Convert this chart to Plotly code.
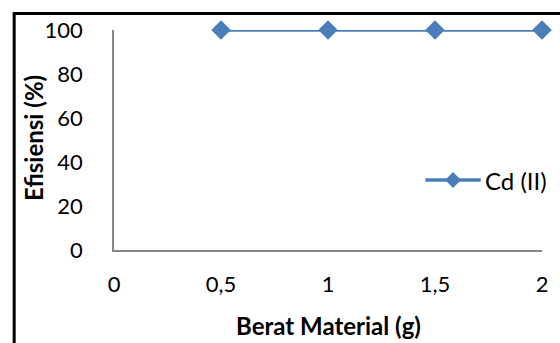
import plotly.graph_objects as go

berat = [0.5, 1, 1.5, 2]
efisiensi = [100, 100, 100, 100]
series_name = "Cd (II)"
x_tickvals = [0, 0.5, 1, 1.5, 2]
x_ticktext = ["0", "0,5", "1", "1,5", "2"]
y_tickvals = [0, 20, 40, 60, 80, 100]
x_title = "Berat Material (g)"
y_title = "Efisiensi (%)"

W, H = 560, 343
L, R, T, B = 114, 13, 30, 93
pw, ph = W - L - R, H - T - B
color = "#4A7EBB"


def px(x):
    return (x - L) / pw


def py(y):
    return (T + ph - y) / ph


fig = go.Figure()
fig.add_trace(go.Scatter(
    x=berat, y=efisiensi, name=series_name, mode="lines+markers",
    line=dict(color=color, width=3.5),
    marker=dict(symbol="diamond", size=15, color=color),
    cliponaxis=False, showlegend=False,
))

font = "Lato, Open Sans, sans-serif"
fig.update_layout(
    width=W, height=H,
    margin=dict(l=L, r=R, t=T, b=B),
    paper_bgcolor="white", plot_bgcolor="white",
    font=dict(family=font, size=22, color="black"),
    showlegend=False,
    xaxis=dict(range=[0, 2], tickvals=x_tickvals, ticktext=x_ticktext,
               showgrid=False, zeroline=False, showline=True, linecolor="#868686", linewidth=1.5,
               ticks="", ticklabelstandoff=14),
    yaxis=dict(range=[0, 100], tickvals=y_tickvals,
               showgrid=False, zeroline=False, showline=True, linecolor="#868686", linewidth=1.5,
               ticks="", ticklabelstandoff=25),
)

# axis titles
fig.add_annotation(text="<b>" + x_title + "</b>", xref="paper", yref="paper",
                   x=px(331), y=py(325), xanchor="center", yanchor="middle",
                   showarrow=False, font=dict(size=24))
fig.add_annotation(text="<b>" + y_title + "</b>", xref="paper", yref="paper",
                   x=px(32), y=py(138), xanchor="center", yanchor="middle",
                   textangle=-90, showarrow=False, font=dict(size=24))

# legend
ly = 180
fig.add_shape(type="line", xref="paper", yref="paper",
              x0=px(429), x1=px(485), y0=py(ly), y1=py(ly),
              line=dict(color=color, width=3.5))
d = 8
fig.add_shape(type="path", xref="paper", yref="paper",
              path=f"M {px(457 - d)},{py(ly)} L {px(457)},{py(ly - d)} L {px(457 + d)},{py(ly)} L {px(457)},{py(ly + d)} Z",
              fillcolor=color, line=dict(width=0))
fig.add_annotation(text=series_name, xref="paper", yref="paper",
                   x=px(487), y=py(ly + 1), xanchor="left", yanchor="middle",
                   showarrow=False, font=dict(size=24))

fig.add_shape(type="rect", xref="paper", yref="paper",
              x0=px(13), x1=px(575), y0=py(360), y1=py(13.5),
              line=dict(color="black", width=3), fillcolor="rgba(0,0,0,0)", layer="above")

fig.write_html("out.html")
